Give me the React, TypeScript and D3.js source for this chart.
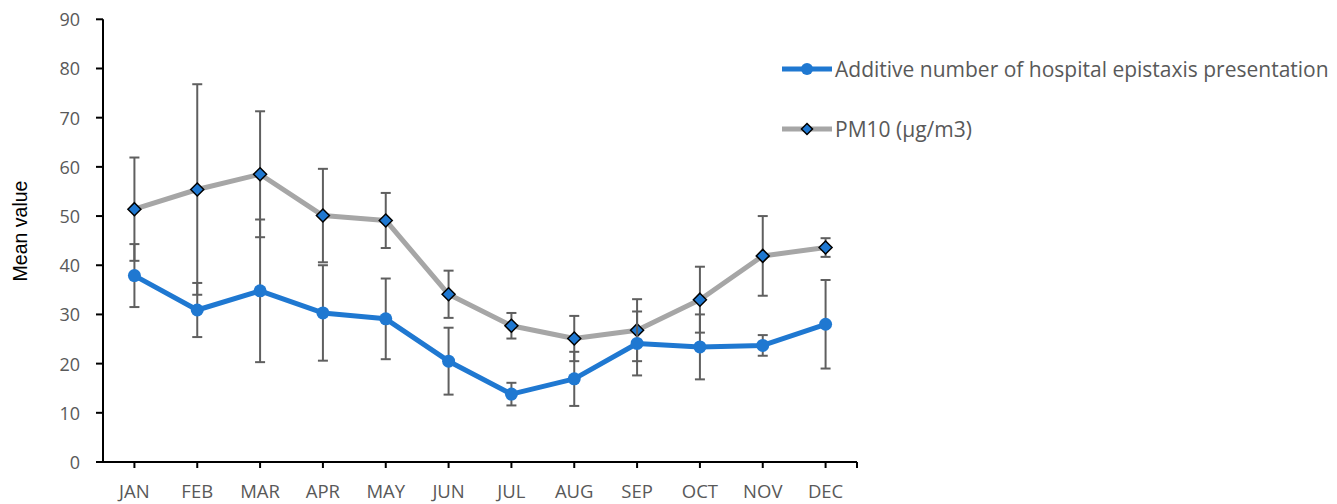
import React from "react";
import * as d3 from "d3";

const months = ["JAN", "FEB", "MAR", "APR", "MAY", "JUN", "JUL", "AUG", "SEP", "OCT", "NOV", "DEC"];
const epistaxisMean = [37.9, 30.9, 34.8, 30.3, 29.1, 20.5, 13.8, 16.9, 24.1, 23.4, 23.7, 28.0];
const epistaxisErr = [6.4, 5.5, 14.5, 9.7, 8.2, 6.8, 2.3, 5.5, 6.5, 6.6, 2.1, 9.0];
const pm10Mean = [51.4, 55.4, 58.5, 50.1, 49.1, 34.1, 27.7, 25.1, 26.8, 33.0, 41.9, 43.6];
const pm10Err = [10.5, 21.4, 12.8, 9.5, 5.6, 4.8, 2.6, 4.6, 6.3, 6.7, 8.1, 1.9];
const yTicks = [0, 10, 20, 30, 40, 50, 60, 70, 80, 90];
const legendLabels = ["Additive number of hospital epistaxis presentation", "PM10 (\u00b5g/m3)"];

const W = 1337;
const H = 504;
const left = 103;
const right = 857;
const top = 19.3;
const bottom = 462;

const BLUE = "#1F78D1";
const GRAY = "#A6A6A6";
const ERR = "#5F5F5F";
const TEXT = "#595959";
const FONT = "'Open Sans', 'Noto Sans', sans-serif";

export default function App() {
  const x = d3.scaleBand<string>().domain(months).range([left, right]);
  const y = d3.scaleLinear().domain([0, 90]).range([bottom, top]);
  const cx = (m: string) => (x(m) as number) + x.bandwidth() / 2;
  const line = d3
    .line<number>()
    .x((_, i) => cx(months[i]))
    .y((d) => y(d));

  const errBars = (means: number[], errs: number[], key: string) =>
    means.map((m, i) => {
      const xx = cx(months[i]);
      const y1 = y(m + errs[i]);
      const y2 = y(m - errs[i]);
      return (
        <g key={key + i} stroke={ERR} strokeWidth={2}>
          <line x1={xx} x2={xx} y1={y1} y2={y2} />
          <line x1={xx - 5} x2={xx + 5} y1={y1} y2={y1} />
          <line x1={xx - 5} x2={xx + 5} y1={y2} y2={y2} />
        </g>
      );
    });

  const diamond = (px: number, py: number, s: number, k: string) => (
    <path
      key={k}
      d={`M${px},${py - s}L${px + s},${py}L${px},${py + s}L${px - s},${py}Z`}
      fill={BLUE}
      stroke="#000"
      strokeWidth={1.5}
    />
  );

  return (
    <svg width={W} height={H} style={{ position: "absolute", left: 0, top: 0 }}>
      <rect width={W} height={H} fill="#fff" />
      {/* axes */}
      <line x1={left} x2={left} y1={top} y2={bottom} stroke="#000" strokeWidth={2} />
      <line x1={left - 1} x2={right} y1={bottom} y2={bottom} stroke="#000" strokeWidth={2} />
      {yTicks.map((t) => (
        <g key={"yt" + t}>
          <line x1={left - 7} x2={left} y1={y(t)} y2={y(t)} stroke="#000" strokeWidth={2} />
          <text
            x={80}
            y={y(t)}
            textAnchor="end"
            dominantBaseline="central"
            fontFamily={FONT}
            fontSize={18}
            fill={TEXT}
          >
            {t}
          </text>
        </g>
      ))}
      {months.map((m) => (
        <g key={"xt" + m}>
          <line x1={cx(m)} x2={cx(m)} y1={bottom} y2={bottom + 6} stroke="#000" strokeWidth={2} />
          <text
            x={cx(m)}
            y={bottom + 36}
            textAnchor="middle"
            fontFamily={FONT}
            fontSize={18.5}
            fill={TEXT}
          >
            {m}
          </text>
        </g>
      ))}
      <line x1={right} x2={right} y1={bottom} y2={bottom + 6} stroke="#000" strokeWidth={2} />
      <text
        transform={`translate(20,${231}) rotate(-90)`}
        textAnchor="middle"
        dominantBaseline="central"
        fontFamily="'Liberation Sans', Arial, sans-serif"
        fontSize={19.5}
        fill="#000"
      >
        Mean value
      </text>

      {/* PM10 series */}
      <path d={line(pm10Mean) || ""} fill="none" stroke={GRAY} strokeWidth={5} strokeLinejoin="round" />
      {errBars(pm10Mean, pm10Err, "pe")}
      {pm10Mean.map((v, i) => diamond(cx(months[i]), y(v), 6.5, "pd" + i))}

      {/* Epistaxis series */}
      <path d={line(epistaxisMean) || ""} fill="none" stroke={BLUE} strokeWidth={5} strokeLinejoin="round" />
      {errBars(epistaxisMean, epistaxisErr, "ee")}
      {epistaxisMean.map((v, i) => (
        <circle key={"ec" + i} cx={cx(months[i])} cy={y(v)} r={6.5} fill={BLUE} />
      ))}

      {/* legend */}
      <g>
        <line x1={782} x2={832} y1={69} y2={69} stroke={BLUE} strokeWidth={5} />
        <circle cx={807} cy={69} r={6} fill={BLUE} />
        <text x={835} y={69} dominantBaseline="central" fontFamily={FONT} fontSize={21} fill={TEXT}>
          {legendLabels[0]}
        </text>
        <line x1={782} x2={832} y1={129} y2={129} stroke={GRAY} strokeWidth={5} />
        {diamond(807, 129, 5.5, "ld")}
        <text x={835} y={129} dominantBaseline="central" fontFamily={FONT} fontSize={21} fill={TEXT}>
          {legendLabels[1]}
        </text>
      </g>
    </svg>
  );
}
